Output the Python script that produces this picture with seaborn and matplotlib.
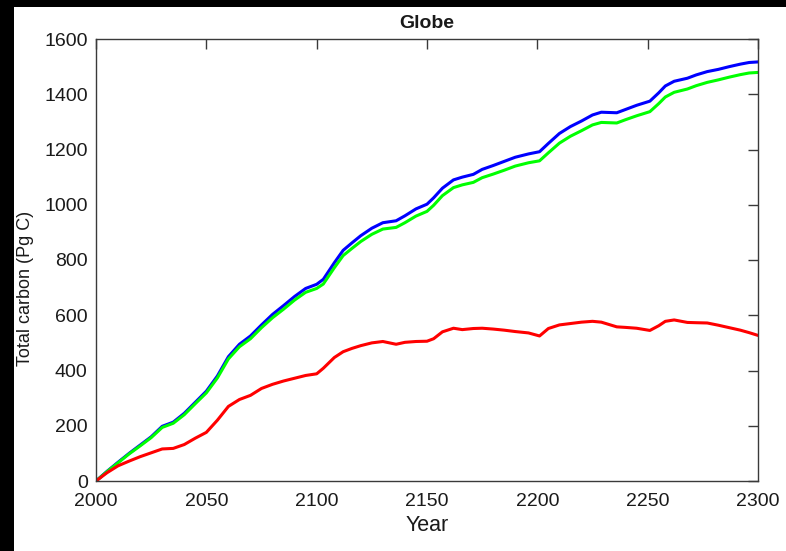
import matplotlib
matplotlib.use("Agg")
import matplotlib.pyplot as plt
import seaborn as sns
import pandas as pd
from matplotlib.patches import Rectangle

years = [2000, 2005, 2010, 2015, 2020, 2025, 2030, 2035, 2040, 2045, 2050, 2055, 2060, 2065,
         2070, 2075, 2080, 2085, 2090, 2095, 2100, 2103, 2108, 2112, 2116, 2120, 2125, 2130,
         2136, 2140, 2145, 2150, 2153, 2157, 2162, 2166, 2171, 2175, 2180, 2185, 2190, 2196,
         2201, 2205, 2210, 2215, 2220, 2225, 2229, 2236, 2240, 2245, 2251, 2255, 2258, 2262,
         2268, 2272, 2277, 2282, 2287, 2292, 2296, 2300]

blue_vals = [0, 35, 68, 100, 130, 160, 198, 213, 245, 285, 325, 380, 450, 495,
             525, 565, 603, 635, 668, 697, 712, 730, 790, 835, 862, 888, 915, 935,
             942, 960, 985, 1002, 1025, 1060, 1090, 1100, 1110, 1128, 1142, 1157, 1172, 1184,
             1192, 1222, 1258, 1283, 1303, 1325, 1335, 1333, 1345, 1360, 1375, 1405, 1430, 1447,
             1458, 1470, 1482, 1490, 1500, 1509, 1515, 1517]

green_vals = [0, 34, 66, 98, 127, 157, 194, 209, 240, 280, 319, 373, 442, 486,
              515, 555, 591, 622, 655, 683, 697, 713, 772, 816, 842, 867, 893, 912,
              918, 935, 959, 976, 998, 1033, 1062, 1072, 1081, 1098, 1111, 1125, 1140, 1152,
              1159, 1188, 1223, 1248, 1268, 1289, 1298, 1296, 1308, 1322, 1337, 1366, 1390, 1407,
              1419, 1431, 1443, 1452, 1462, 1471, 1477, 1479]

red_vals = [0, 30, 55, 72, 88, 102, 116, 118, 132, 155, 176, 220, 270, 295,
            310, 335, 350, 362, 372, 382, 388, 408, 447, 468, 480, 490, 500, 505,
            495, 502, 505, 506, 515, 540, 553, 548, 552, 553, 550, 546, 541, 536,
            525, 552, 565, 570, 575, 578, 575, 558, 556, 553, 545, 562, 578, 583,
            574, 573, 572, 564, 555, 546, 537, 527]

series_names = ["blue", "green", "red"]
x_ticks = [2000, 2050, 2100, 2150, 2200, 2250, 2300]
y_ticks = [0, 200, 400, 600, 800, 1000, 1200, 1400, 1600]

df = pd.concat([
    pd.DataFrame({"Year": years, "Carbon": blue_vals, "series": "blue"}),
    pd.DataFrame({"Year": years, "Carbon": green_vals, "series": "green"}),
    pd.DataFrame({"Year": years, "Carbon": red_vals, "series": "red"}),
])

sns.set_style("white")
plt.rcParams['font.family'] = ['Liberation Sans', 'DejaVu Sans']

fig = plt.figure(figsize=(7.86, 5.51), dpi=100)
ax = fig.add_axes([96/786, 70/551, (758-96)/786, (481-39)/551])

palette = {"blue": "#0000ff", "green": "#00ff00", "red": "#ff0000"}
sns.lineplot(data=df, x="Year", y="Carbon", hue="series", hue_order=series_names,
             palette=palette, linewidth=2.2, legend=False, ax=ax, estimator=None)

ax.set_xlim(2000, 2300)
ax.set_ylim(0, 1600)
ax.set_xticks(x_ticks)
ax.set_yticks(y_ticks)
ax.tick_params(direction="in", length=7, width=1.0, color="#3a3a3a",
               top=True, right=True, labelsize=14, labelcolor="#1a1a1a")
ax.tick_params(axis="x", pad=9)
ax.tick_params(axis="y", pad=6)
for s in ax.spines.values():
    s.set_visible(True)
    s.set_color("#3a3a3a")
    s.set_linewidth(1.0)

ax.set_xlabel("Year", fontsize=15.5, color="#1a1a1a", labelpad=3)
ax.set_ylabel("Total carbon (Pg C)", fontsize=13, color="#1a1a1a")
ax.yaxis.set_label_coords(-0.093, 0.435)
ax.set_title("Globe", fontsize=14, fontweight="bold", color="#1a1a1a", pad=8)

# black borders at the top and left edges of the image
fig.patches.append(Rectangle((0, 0), 14/786, 1, transform=fig.transFigure,
                             facecolor="black", edgecolor="none", zorder=10))
fig.patches.append(Rectangle((0, 1 - 7/551), 1, 7/551, transform=fig.transFigure,
                             facecolor="black", edgecolor="none", zorder=10))

fig.savefig("out.png", dpi=100)
